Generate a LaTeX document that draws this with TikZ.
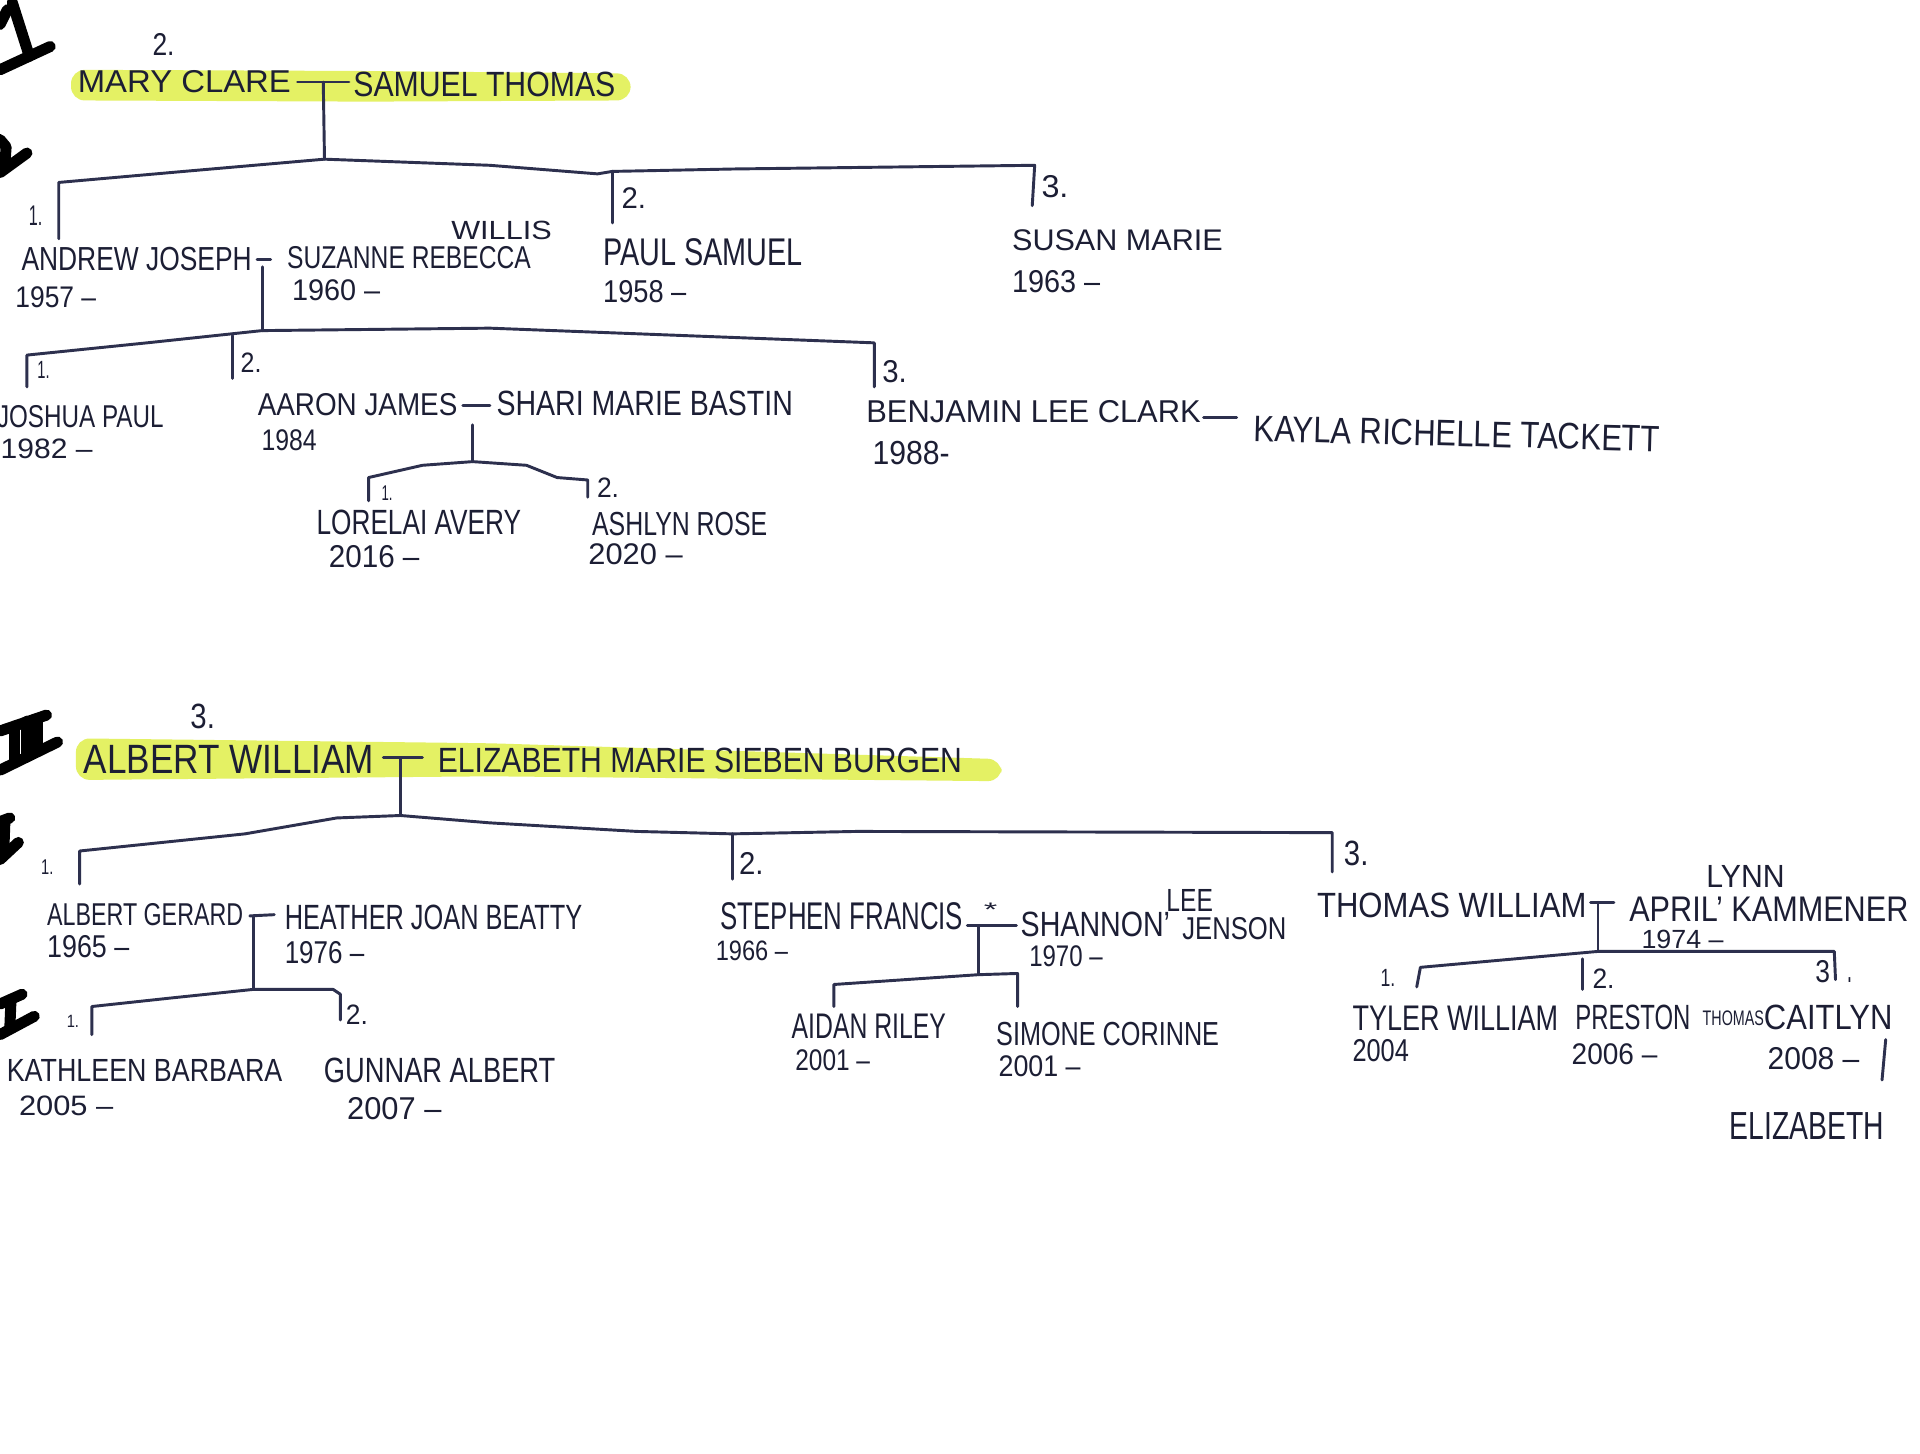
\documentclass[tikz,border=0pt]{standalone}
\usepackage{fontspec}
\setmainfont{Liberation Sans}
\usepackage{graphicx}
\definecolor{ink}{RGB}{28,30,52}
\definecolor{lineink}{RGB}{45,48,78}
\definecolor{hl}{RGB}{228,241,100}
\newdimen\pu \pu=0.0125cm
% \hw{name}{x-left}{y-baseline}{width}{height}{text}
\newcommand\hw[6]{\node[txt] (#1) at (#2,#3) {\resizebox{#4\pu}{#5\pu}{#6}};}
\begin{document}
\begin{tikzpicture}[x=0.0125cm,y=-0.0125cm,
  txt/.style={anchor=south west,inner sep=0,text=ink},
  tree/.style={draw=lineink,line width=0.85pt,line join=round,line cap=round},
  marker/.style={draw=black,line width=3.2pt,line cap=round,line join=round},
  hlband/.style={fill=hl,draw=none,rounded corners=4pt}]
\fill[white] (0,0) rectangle (1568,1187);
\useasboundingbox (0,0) rectangle (1568,1187);

% ---------- highlights ----------
\path[hlband] (58,57) -- (300,58) -- (515,60) -- (515,82) -- (300,83) -- (58,82) -- cycle;
\path[hlband] (62,603) -- (400,607) -- (818,620) -- (818,638) -- (400,634) -- (62,637) -- cycle;

% ---------- roman numeral marks at the left edge ----------
\draw[marker] (0,57) -- (41,38);
\draw[marker] (24,46) -- (10,2);
\draw[marker] (0,20) -- (6,8);
\draw[marker] (0,141) -- (22,125);
\draw[marker] (0,114) -- (5,120) -- (4,134);
\draw[marker] (0,629) -- (47,606);
\draw[marker] (0,597) -- (38,584);
\draw[marker] (12,593) -- (12,622);
\draw[marker] (22,589) -- (22,617);
\draw[marker] (31,587) -- (31,612);
\draw[marker] (0,702) -- (15,688);
\draw[marker] (0,671) -- (8,668);
\draw[marker] (4,671) -- (3,698);
\draw[marker] (0,845) -- (28,830);
\draw[marker] (0,820) -- (18,812);
\draw[marker] (9,816) -- (8,840);

% ================= TOP SECTION =================
\hw{nTwoTop}{124}{46}{18}{18}{2.}
\hw{mary}{63}{76}{174}{18}{MARY CLARE}
\hw{samuel}{288}{80}{214}{20}{SAMUEL THOMAS}

\coordinate (mcL) at (243,67); \coordinate (mcR) at (285,67);
\coordinate (mcT) at (264,67); \coordinate (mcB) at (265,130);
\draw[tree] (mcL) -- (mcR);
\draw[tree] (mcT) -- (mcB);

\coordinate (s1) at (48,195); \coordinate (s1t) at (48,149);
\coordinate (s2) at (500,182); \coordinate (s2t) at (500,140);
\coordinate (s3) at (843,168); \coordinate (s3t) at (845,135);
\draw[tree] (s1) -- (s1t) -- (150,140) -- (mcB) -- (400,135) -- (488,142) -- (s2t) -- (600,138) -- (s3t) -- (s3);
\draw[tree] (s2t) -- (s2);

\hw{n1a}{23}{185}{11}{16}{1.}
\hw{andrew}{17}{222}{188}{19}{ANDREW JOSEPH}
\hw{andrewY}{12}{252}{66}{17}{1957 –}
\hw{willis}{368}{196}{82}{15}{WILLIS}
\hw{suzanne}{234}{220}{199}{18}{SUZANNE REBECCA}
\hw{suzanneY}{238}{246}{72}{17}{1960 –}
\hw{n2a}{507}{171}{20}{17}{2.}
\hw{paul}{492}{218}{163}{22}{PAUL SAMUEL}
\hw{paulY}{492}{248}{68}{18}{1958 –}
\hw{n3a}{850}{162}{22}{18}{3.}
\hw{susan}{826}{205}{172}{17}{SUSAN MARIE}
\hw{susanY}{826}{240}{72}{18}{1963 –}

% Andrew & Suzanne
\coordinate (asL) at (210,212); \coordinate (asR) at (221,212);
\coordinate (asT) at (214,218); \coordinate (asB) at (214,270);
\draw[tree] (asL) -- (asR);
\draw[tree] (asT) -- (asB);
\coordinate (c1) at (22,316); \coordinate (c1t) at (22,290);
\coordinate (c2) at (190,309); \coordinate (c2t) at (190,274);
\coordinate (c3) at (714,316); \coordinate (c3t) at (714,280);
\draw[tree] (c1) -- (c1t) -- (120,280) -- (asB) -- (400,268) -- (c3t) -- (c3);
\draw[tree] (c2t) -- (c2);

\hw{n1b}{30}{310}{10}{14}{1.}
\hw{joshua}{-3}{350}{136}{18}{JOSHUA PAUL}
\hw{joshuaY}{0}{375}{75}{16}{1982 –}
\hw{n2b}{196}{305}{17}{16}{2.}
\hw{aaron}{210}{340}{163}{18}{AARON JAMES}
\hw{aaronY}{213}{369}{45}{17}{1984}
\hw{shari}{405}{340}{242}{20}{SHARI MARIE BASTIN}
\hw{n3b}{720}{313}{20}{18}{3.}
\hw{benjamin}{707}{346}{273}{18}{BENJAMIN LEE CLARK}
\hw{benjaminY}{712}{380}{63}{19}{1988-}
\node[txt,rotate=-1.5] (kayla) at (1023,361) {\resizebox{332\pu}{21\pu}{KAYLA RICHELLE TACKETT}};

% Aaron & Shari
\coordinate (arL) at (378,331); \coordinate (arR) at (400,331);
\coordinate (arT) at (386,347); \coordinate (arB) at (386,377);
\draw[tree] (arL) -- (arR);
\draw[tree] (arT) -- (arB);
\coordinate (g1) at (301,409); \coordinate (g1t) at (301,390);
\coordinate (g2) at (480,406); \coordinate (g2t) at (480,392);
\draw[tree] (g1) -- (g1t) -- (345,380) -- (arB) -- (430,380) -- (455,390) -- (g2t) -- (g2);
% Benjamin & Kayla
\coordinate (bkL) at (983,341); \coordinate (bkR) at (1010,341);
\draw[tree] (bkL) -- (bkR);

\hw{n1c}{311}{409}{9}{12}{1.}
\hw{lorelai}{258}{437}{167}{20}{LORELAI AVERY}
\hw{lorelaiY}{268}{464}{74}{18}{2016 –}
\hw{n2c}{487}{407}{18}{16}{2.}
\hw{ashlyn}{483}{438}{143}{19}{ASHLYN ROSE}
\hw{ashlynY}{480}{462}{77}{17}{2020 –}

% ================= BOTTOM SECTION =================
\hw{nThreeBot}{155}{596}{20}{20}{3.}
\hw{albert}{68}{632}{237}{23}{ALBERT WILLIAM}
\hw{elizabeth}{357}{632}{428}{20}{ELIZABETH MARIE SIEBEN BURGEN}

\coordinate (aeL) at (313,619); \coordinate (aeR) at (345,619);
\coordinate (aeT) at (327,619); \coordinate (aeB) at (327,666);
\draw[tree] (aeL) -- (aeR);
\draw[tree] (aeT) -- (aeB);
\coordinate (d1) at (65,722); \coordinate (d1t) at (65,695);
\coordinate (d2) at (598,718); \coordinate (d2t) at (598,681);
\coordinate (d3) at (1088,712); \coordinate (d3t) at (1088,680);
\draw[tree] (d1) -- (d1t) -- (200,681) -- (275,668) -- (aeB) -- (400,672) -- (520,679) -- (d2t) -- (700,679) -- (d3t) -- (d3);
\draw[tree] (d2t) -- (d2);

\hw{n1d}{33}{715}{10}{12}{1.}
\hw{gerard}{38}{757}{160}{18}{ALBERT GERARD}
\hw{gerardY}{38}{783}{67}{18}{1965 –}
\hw{heather}{232}{760}{243}{20}{HEATHER JOAN BEATTY}
\hw{heatherY}{232}{788}{65}{18}{1976 –}
\hw{n2d}{603}{715}{20}{18}{2.}
\hw{stephen}{588}{760}{198}{22}{STEPHEN FRANCIS}
\hw{stephenY}{584}{785}{59}{16}{1966 –}
\hw{star}{803}{749}{11}{11}{*}
\hw{shannon}{833}{766}{122}{20}{SHANNON'}
\hw{lee}{952}{745}{38}{18}{LEE}
\hw{jenson}{965}{768}{85}{18}{JENSON}
\hw{shannonY}{840}{790}{60}{17}{1970 –}
\hw{n3d}{1097}{708}{20}{20}{3.}
\hw{thomas}{1075}{750}{220}{20}{THOMAS WILLIAM}
\hw{lynn}{1393}{725}{64}{18}{LYNN}
\hw{april}{1330}{753}{228}{20}{APRIL' KAMMENER}
\hw{aprilY}{1340}{775}{67}{15}{1974 –}

% Albert Gerard & Heather
\coordinate (ghL) at (204,748); \coordinate (ghR) at (224,747);
\coordinate (ghT) at (207,748); \coordinate (ghB) at (207,808);
\draw[tree] (ghL) -- (ghR);
\draw[tree] (ghT) -- (ghB);
\coordinate (k1) at (75,845); \coordinate (k1t) at (75,822);
\coordinate (k2) at (278,833); \coordinate (k2t) at (278,812);
\draw[tree] (k1) -- (k1t) -- (140,815) -- (ghB) -- (272,808) -- (k2t) -- (k2);

% Stephen & Shannon
\coordinate (ssL) at (790,756); \coordinate (ssR) at (830,756);
\coordinate (ssT) at (799,756); \coordinate (ssB) at (799,796);
\draw[tree] (ssL) -- (ssR);
\draw[tree] (ssT) -- (ssB);
\coordinate (m1) at (681,822); \coordinate (m1t) at (681,804);
\coordinate (m2) at (831,822); \coordinate (m2t) at (831,795);
\draw[tree] (m1) -- (m1t) -- (ssB) -- (m2t) -- (m2);

% Thomas & April
\coordinate (taL) at (1299,737); \coordinate (taR) at (1318,737);
\coordinate (taT) at (1305,737); \coordinate (taB) at (1305,777);
\draw[tree] (taL) -- (taR);
\draw[tree] (taT) -- (taB);
\coordinate (p1) at (1157,806); \coordinate (p1t) at (1160,790);
\coordinate (p2) at (1292,808); \coordinate (p2t) at (1292,783);
\coordinate (p3) at (1499,800); \coordinate (p3t) at (1498,777);
\draw[tree] (p1) -- (p1t) -- (taB) -- (p3t) -- (p3);
\draw[tree] (p2t) -- (p2);

\hw{n1e}{54}{840}{10}{10}{1.}
\hw{kathleen}{5}{884}{225}{18}{KATHLEEN BARBARA}
\hw{kathleenY}{15}{912}{77}{16}{2005 –}
\hw{n2e}{282}{837}{18}{16}{2.}
\hw{gunnar}{264}{885}{189}{20}{GUNNAR ALBERT}
\hw{gunnarY}{283}{915}{77}{18}{2007 –}

\hw{aidan}{646}{849}{126}{20}{AIDAN RILEY}
\hw{aidanY}{649}{875}{61}{17}{2001 –}
\hw{simone}{813}{855}{182}{19}{SIMONE CORINNE}
\hw{simoneY}{815}{880}{67}{17}{2001 –}

\hw{n1f}{1127}{806}{12}{14}{1.}
\hw{tyler}{1104}{842}{168}{20}{TYLER WILLIAM}
\hw{tylerY}{1104}{868}{46}{18}{2004}
\hw{n2f}{1300}{808}{18}{16}{2.}
\hw{preston}{1286}{842}{94}{20}{PRESTON}
\hw{prestonM}{1390}{838}{50}{12}{THOMAS}
\hw{prestonY}{1283}{870}{70}{17}{2006 –}
\hw{n3f}{1482}{803}{12}{18}{3}
\hw{n3fdot}{1508}{803}{4}{4}{.}
\hw{caitlyn}{1440}{842}{105}{20}{CAITLYN}
\hw{caitlynY}{1443}{874}{75}{18}{2008 –}
\hw{caitlynM}{1412}{931}{126}{22}{ELIZABETH}
\coordinate (cmT) at (1540,849); \coordinate (cmB) at (1537,882);
\draw[tree] (cmT) -- (cmB);
\end{tikzpicture}
\end{document}
